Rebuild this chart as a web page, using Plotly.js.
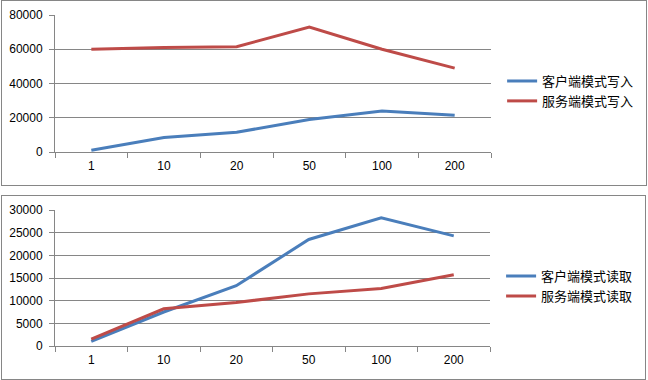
<!DOCTYPE html>
<html>
<head>
<meta charset="utf-8">
<script src="https://cdn.plot.ly/plotly-3.0.1.min.js"></script>
<style>
  html, body { margin: 0; padding: 0; background: #fff; width: 648px; height: 380px; overflow: hidden; }
  .box { position: absolute; border: 1px solid #868686; box-sizing: border-box; background: #fff; }
  #top { left: 1px; top: 0px; width: 646px; height: 186px; }
  #bottom { left: 1px; top: 195px; width: 645px; height: 185px; }
</style>
</head>
<body>
<div id="top" class="box"></div>
<div id="bottom" class="box"></div>
<script>
const categories = ['1', '10', '20', '50', '100', '200'];

const writeNames = ['客户端模式写入', '服务端模式写入'];
const clientWrite = [1000, 8500, 11500, 19000, 24000, 21500];
const serverWrite = [60000, 61000, 61500, 73000, 60000, 49000];

const readNames = ['客户端模式读取', '服务端模式读取'];
const clientRead = [1000, 7500, 13300, 23500, 28300, 24300];
const serverRead = [1500, 8200, 9600, 11500, 12700, 15700];

const colors = ['#4A7EBB', '#BE4B48'];
const tickFont = { family: 'Liberation Sans, Arial, sans-serif', size: 12, color: '#000' };
const legendFont = { family: 'Noto Sans CJK SC, sans-serif', size: 13, color: '#000' };
const gridColor = '#868686';

function makeTraces(names, series) {
  return series.map((vals, i) => ({
    type: 'scatter', mode: 'lines',
    x: categories, y: vals, name: names[i],
    legendgroup: 'g' + i,
    line: { color: colors[i], width: 3 },
    hoverinfo: 'skip'
  }));
}

function makeLayout(w, h, plotW, plotH, ymax, dtick, legendY) {
  return {
    width: w, height: h,
    margin: { l: 53, r: w - 53 - plotW, t: 14, b: h - 14 - plotH, autoexpand: false },
    paper_bgcolor: '#fff', plot_bgcolor: '#fff',
    showlegend: true,
    legend: {
      x: 1.0255, xanchor: 'left', y: legendY, yanchor: 'middle',
      font: legendFont, traceorder: 'grouped', tracegroupgap: 0,
      bgcolor: 'rgba(0,0,0,0)', itemclick: false
    },
    xaxis: {
      type: 'category', range: [-0.5, 5.5], fixedrange: true,
      showgrid: false, showline: true, linecolor: gridColor, linewidth: 1,
      ticks: 'outside', tickson: 'boundaries', ticklen: 5, tickcolor: gridColor,
      tickfont: tickFont, ticklabelstandoff: 3, zeroline: false
    },
    yaxis: {
      range: [0, ymax], dtick: dtick, tick0: 0, fixedrange: true,
      showgrid: true, gridcolor: gridColor, gridwidth: 1,
      showline: true, linecolor: gridColor, linewidth: 1,
      ticks: 'outside', ticklen: 5, tickcolor: gridColor,
      tickfont: tickFont, ticklabelstandoff: 4, zeroline: false,
      tickformat: 'd'
    }
  };
}

const cfg = { staticPlot: true, displayModeBar: false };

Plotly.newPlot('top', makeTraces(writeNames, [clientWrite, serverWrite]),
  makeLayout(644, 184, 436, 137, 80000, 20000, 0.445), cfg);
Plotly.newPlot('bottom', makeTraces(readNames, [clientRead, serverRead]),
  makeLayout(643, 183, 435, 136, 30000, 5000, 0.44), cfg);
</script>
</body>
</html>
